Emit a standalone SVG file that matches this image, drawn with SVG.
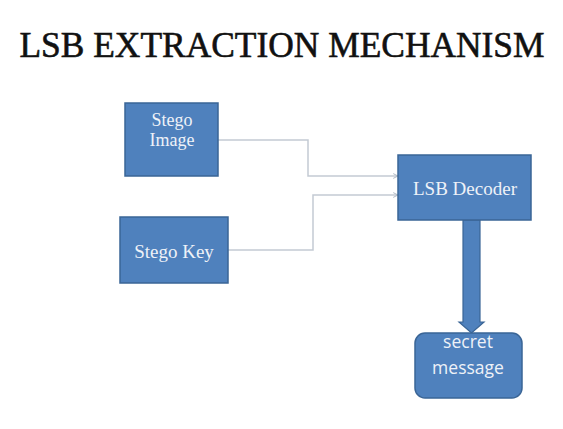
<svg xmlns="http://www.w3.org/2000/svg" width="563" height="429" viewBox="0 0 563 429">
<defs>
<style>
.box{fill:#4F81BD;stroke:#3A6596;stroke-width:1.5}
.lbl{fill:#EEF2F8;font-family:"Liberation Serif","Times New Roman",serif;font-size:19px;text-anchor:middle}
.sans{fill:#EEF2F8;font-family:"Open Sans","Liberation Sans",sans-serif;font-size:17.5px;text-anchor:middle}
.conn{fill:none;stroke:#C3CAD3;stroke-width:1.5}
</style>
<marker id="ah" viewBox="0 0 10 10" refX="9" refY="5" markerWidth="6" markerHeight="6" orient="auto" markerUnits="userSpaceOnUse">
<path d="M1,1 L9,5 L1,9" fill="none" stroke="#A8B2BE" stroke-width="1.5"/>
</marker>
</defs>
<rect width="563" height="429" fill="#FFFFFF"/>
<text x="282" y="57" font-family="'Liberation Serif','Times New Roman',serif" font-size="36" text-anchor="middle" textLength="525" lengthAdjust="spacingAndGlyphs" fill="#111" stroke="#111" stroke-width="0.6">LSB EXTRACTION MECHANISM</text>
<g id="connectors">
<polyline class="conn" points="218,140 308,140 308,176 398,176" marker-end="url(#ah)"/>
<polyline class="conn" points="228,250 313,250 313,195 398,195" marker-end="url(#ah)"/>
<path d="M463,220 L480,220 L480,322 L484,322 L471.5,333 L459,322 L463,322 Z" fill="#4F81BD" stroke="#3A6596" stroke-width="1.2"/>
</g>
<g id="stego-image">
<rect class="box" x="125" y="103" width="93" height="73"/>
<text class="lbl" x="172" y="126" style="font-size:18px">Stego</text>
<text class="lbl" x="172" y="146" style="font-size:18px">Image</text>
</g>
<g id="stego-key">
<rect class="box" x="120" y="217" width="108" height="66"/>
<text class="lbl" x="174" y="258">Stego Key</text>
</g>
<g id="lsb-decoder">
<rect class="box" x="398" y="155" width="133" height="65"/>
<text class="lbl" x="465" y="195">LSB Decoder</text>
</g>
<g id="secret-message">
<rect class="box" x="415" y="333" width="107" height="65" rx="10"/>
<text class="sans" x="468" y="348">secret</text>
<text class="sans" x="468" y="374">message</text>
</g>
</svg>
